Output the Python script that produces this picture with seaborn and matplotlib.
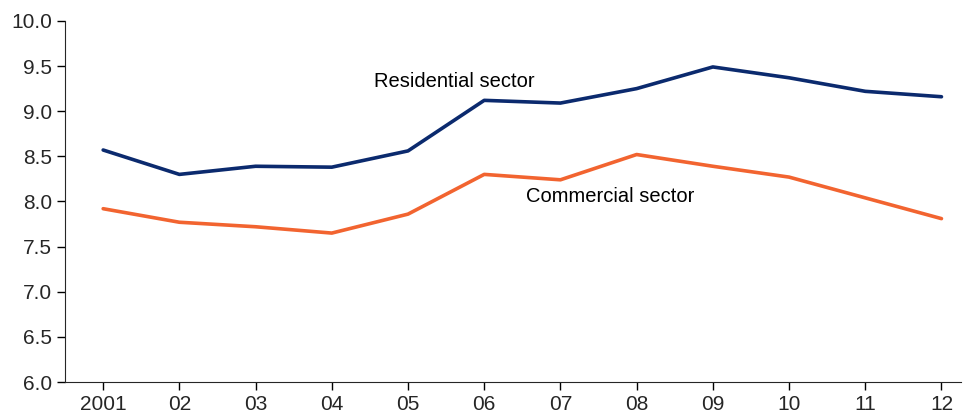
import matplotlib
matplotlib.use("Agg")
import matplotlib.pyplot as plt
import seaborn as sns
import pandas as pd

years = list(range(2001, 2013))
tick_labels = ["2001", "02", "03", "04", "05", "06", "07", "08", "09", "10", "11", "12"]
residential = [8.57, 8.30, 8.39, 8.38, 8.56, 9.12, 9.09, 9.25, 9.49, 9.37, 9.22, 9.16]
commercial = [7.92, 7.77, 7.72, 7.65, 7.86, 8.30, 8.24, 8.52, 8.39, 8.27, 8.04, 7.81]

sns.set_style("ticks")
plt.rcParams['font.family'] = ['Liberation Sans', 'DejaVu Sans']

df = pd.DataFrame({"year": years * 2,
                   "value": residential + commercial,
                   "sector": ["Residential sector"] * 12 + ["Commercial sector"] * 12})

fig = plt.figure(figsize=(9.71, 4.18), dpi=100)
ax = fig.add_axes([0.067, 0.086, 0.923, 0.864])
sns.lineplot(data=df, x="year", y="value", hue="sector",
             palette={"Residential sector": "#0b2a6e", "Commercial sector": "#f26430"},
             linewidth=2.6, legend=False, ax=ax)
ax.set_xlim(2000.5, 2012.26)
ax.set_ylim(6.0, 10.0)
ax.set_xticks(years)
ax.set_xticklabels(tick_labels, fontsize=15)
ax.set_yticks([6.0 + 0.5 * i for i in range(9)])
ax.set_yticklabels([f"{6.0 + 0.5 * i:.1f}" for i in range(9)], fontsize=15)
ax.tick_params(direction="out", length=6, width=1, color="black")
ax.set_xlabel("")
ax.set_ylabel("")
for s in ["top", "right"]:
    ax.spines[s].set_visible(False)
ax.text(2004.55, 9.33, "Residential sector", fontsize=14.5, color="black", va="center")
ax.text(2006.55, 8.05, "Commercial sector", fontsize=14.5, color="black", va="center")
fig.savefig("out.png", dpi=100)
